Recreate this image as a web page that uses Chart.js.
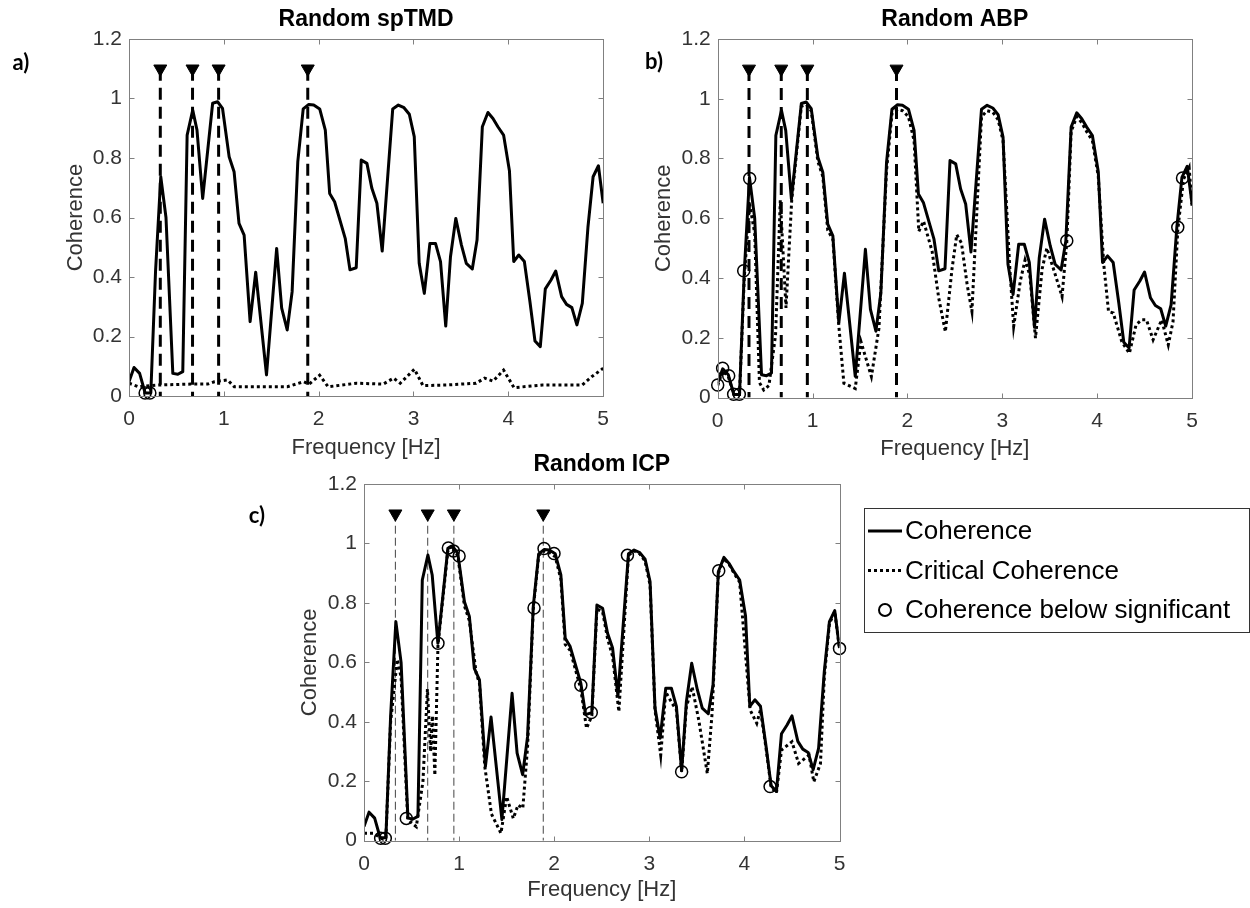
<!DOCTYPE html>
<html>
<head>
<meta charset="utf-8">
<script src="https://cdn.jsdelivr.net/npm/chart.js@4.4.1/dist/chart.umd.min.js"></script>
<style>
  body { margin: 0; background: #fff; width: 1250px; height: 908px; overflow: hidden; position: relative; }
  canvas { position: absolute; }
</style>
</head>
<body>
<canvas id="chartA" width="620" height="462" style="left:0px;top:0px"></canvas>
<canvas id="chartB" width="630" height="462" style="left:620px;top:0px"></canvas>
<canvas id="chartC" width="1010" height="458" style="left:240px;top:450px"></canvas>
<script>
// shared coherence curve (same in all three panels)
const cohFreq = [0, 0.053, 0.112, 0.17, 0.23, 0.28, 0.335, 0.39, 0.462, 0.515, 0.567, 0.613, 0.672, 0.717, 0.777, 0.882, 0.934, 0.986,
  1.056, 1.108, 1.16, 1.214, 1.277, 1.336, 1.45, 1.557, 1.61, 1.668, 1.72, 1.78, 1.837, 1.896, 1.948, 2.011, 2.07, 2.116, 2.168,
  2.28, 2.33, 2.396, 2.449, 2.509, 2.561, 2.614, 2.67, 2.781, 2.84, 2.9, 2.956, 3.008, 3.06, 3.114, 3.173, 3.232, 3.285, 3.34,
  3.39, 3.446, 3.505, 3.557, 3.62, 3.67, 3.726, 3.785, 3.838, 3.89, 3.95, 4.012, 4.057, 4.11, 4.169, 4.228, 4.281, 4.337, 4.39,
  4.45, 4.5, 4.562, 4.614, 4.67, 4.723, 4.78, 4.84, 4.894, 4.95, 5.0];
const coherence = [0.048, 0.096, 0.076, 0.01, 0.01, 0.42, 0.737, 0.6, 0.076, 0.073, 0.082, 0.877, 0.961, 0.894, 0.664, 0.984, 0.989, 0.967,
  0.804, 0.754, 0.58, 0.541, 0.25, 0.416, 0.071, 0.496, 0.295, 0.222, 0.35, 0.788, 0.965, 0.98, 0.978, 0.965, 0.894, 0.681, 0.653,
  0.53, 0.424, 0.431, 0.793, 0.782, 0.698, 0.648, 0.487, 0.965, 0.978, 0.969, 0.947, 0.872, 0.446, 0.345, 0.513, 0.513, 0.452, 0.235,
  0.468, 0.597, 0.508, 0.446, 0.427, 0.524, 0.905, 0.953, 0.933, 0.905, 0.877, 0.756, 0.452, 0.474, 0.452, 0.317, 0.185, 0.166, 0.36,
  0.39, 0.42, 0.334, 0.308, 0.297, 0.239, 0.311, 0.569, 0.737, 0.774, 0.648];

// critical coherence, one per panel
const critFreqA = [0, 0.1, 0.3, 0.65, 0.83, 0.9, 1.04, 1.11, 1.67, 1.84, 1.9, 2.01, 2.1, 2.4, 2.68, 2.79, 2.86, 3.01, 3.1, 3.35,
  3.66, 3.75, 3.84, 3.95, 4.06, 4.36, 4.78, 4.88, 5.0];
const critA = [0.043, 0.031, 0.037, 0.04, 0.04, 0.048, 0.054, 0.031, 0.031, 0.048, 0.04, 0.07, 0.031, 0.043, 0.04, 0.06, 0.043, 0.09, 0.035, 0.037,
  0.043, 0.06, 0.05, 0.087, 0.028, 0.037, 0.037, 0.065, 0.093];

const critFreqB = [0, 0.053, 0.112, 0.17, 0.23, 0.28, 0.335, 0.39, 0.44, 0.485, 0.54, 0.61, 0.66, 0.72, 0.78, 0.882, 0.934, 0.986,
  1.056, 1.108, 1.16, 1.214, 1.276, 1.33, 1.45, 1.51, 1.62, 1.7, 1.78, 1.837, 1.896, 1.948, 2.011, 2.07, 2.12, 2.17, 2.26, 2.33, 2.4,
  2.47, 2.52, 2.57, 2.63, 2.68, 2.781, 2.84, 2.9, 2.956, 3.008, 3.08, 3.12, 3.19, 3.24, 3.29, 3.35, 3.42, 3.47, 3.54, 3.63, 3.68,
  3.726, 3.785, 3.838, 3.89, 3.95, 4.012, 4.07, 4.12, 4.17, 4.26, 4.34, 4.41, 4.47, 4.52, 4.59, 4.68, 4.75, 4.8, 4.85, 4.91, 4.97, 5.0];
const critB = [0.04, 0.09, 0.07, 0.01, 0.01, 0.4, 0.65, 0.55, 0.05, 0.025, 0.04, 0.21, 0.66, 0.3, 0.66, 0.975, 0.98, 0.96,
  0.79, 0.74, 0.56, 0.53, 0.243, 0.048, 0.03, 0.187, 0.07, 0.232, 0.76, 0.95, 0.965, 0.96, 0.94, 0.86, 0.556, 0.59, 0.49, 0.333, 0.22,
  0.43, 0.545, 0.517, 0.377, 0.288, 0.94, 0.96, 0.955, 0.93, 0.86, 0.43, 0.238, 0.39, 0.46, 0.41, 0.199, 0.43, 0.5, 0.43, 0.338, 0.52,
  0.89, 0.94, 0.92, 0.89, 0.86, 0.74, 0.445, 0.288, 0.283, 0.187, 0.148, 0.243, 0.26, 0.26, 0.193, 0.26, 0.176, 0.254, 0.56, 0.73, 0.77, 0.64];

const critFreqC = [0, 0.095, 0.2, 0.23, 0.28, 0.35, 0.39, 0.46, 0.55, 0.62, 0.667, 0.7, 0.72, 0.745, 0.778, 0.882, 0.934, 0.986,
  1.056, 1.108, 1.18, 1.214, 1.27, 1.34, 1.44, 1.5, 1.57, 1.62, 1.67, 1.72, 1.78, 1.837, 1.896, 1.948, 2.011, 2.07, 2.116, 2.168,
  2.28, 2.34, 2.396, 2.449, 2.509, 2.561, 2.614, 2.68, 2.781, 2.84, 2.9, 2.956, 3.008, 3.06, 3.12, 3.173, 3.24, 3.285, 3.34, 3.39,
  3.45, 3.52, 3.61, 3.66, 3.726, 3.785, 3.838, 3.89, 3.95, 4.06, 4.13, 4.169, 4.228, 4.281, 4.337, 4.39, 4.5, 4.57, 4.68, 4.73,
  4.8, 4.84, 4.894, 4.95, 5.0];
const critC = [0.025, 0.025, 0.005, 0.01, 0.4, 0.61, 0.55, 0.07, 0.047, 0.2, 0.51, 0.3, 0.42, 0.22, 0.66, 0.975, 0.98, 0.96,
  0.79, 0.74, 0.563, 0.53, 0.25, 0.09, 0.025, 0.148, 0.075, 0.12, 0.109, 0.316, 0.78, 0.96, 0.975, 0.97, 0.955, 0.88, 0.66, 0.64,
  0.51, 0.378, 0.42, 0.78, 0.77, 0.68, 0.62, 0.434, 0.96, 0.975, 0.965, 0.94, 0.86, 0.44, 0.288, 0.5, 0.462, 0.44, 0.232, 0.45,
  0.518, 0.406, 0.226, 0.428, 0.9, 0.95, 0.93, 0.9, 0.87, 0.44, 0.395, 0.44, 0.31, 0.18, 0.16, 0.305, 0.333, 0.26, 0.288, 0.198,
  0.26, 0.55, 0.73, 0.77, 0.645];

// points where coherence is below the significance level
const belowFreqA = [0.17, 0.22];
const belowA = [0.01, 0.01];
const belowFreqB = [0, 0.052, 0.116, 0.168, 0.228, 0.274, 0.337, 3.68, 4.85, 4.9];
const belowB = [0.042, 0.098, 0.073, 0.011, 0.011, 0.424, 0.733, 0.525, 0.57, 0.735];
const belowFreqC = [0.175, 0.224, 0.445, 0.778, 0.887, 0.94, 1.0, 1.788, 1.893, 1.998, 2.28, 2.39, 2.77, 3.34, 3.73, 4.27, 5.0];
const belowC = [0.008, 0.008, 0.075, 0.664, 0.985, 0.975, 0.958, 0.783, 0.983, 0.966, 0.523, 0.431, 0.96, 0.232, 0.908, 0.182, 0.647];

// marked frequencies (triangles + dashed lines)
const markerFreq = [0.33, 0.67, 0.945, 1.885];
const markerLevel = 1.1;

const xTicks = [0, 1, 2, 3, 4, 5];
const yTicks = [0, 0.2, 0.4, 0.6, 0.8, 1, 1.2];
const legendLabels = ['Coherence', 'Critical Coherence', 'Coherence below significant'];

const FONT = '"Liberation Sans", Arial, sans-serif';
const TXT = '#333';
Chart.defaults.font.family = FONT;
Chart.defaults.animation = false;

const pts = (xs, ys) => xs.map((x, i) => ({ x, y: ys[i] }));

const panelDecor = {
  id: 'panelDecor',
  afterDatasetsDraw(chart, args, o) {
    const { ctx, chartArea: a, scales: { x, y } } = chart;
    ctx.save();
    // box with inward ticks
    ctx.strokeStyle = '#808080';
    ctx.lineWidth = 1;
    ctx.setLineDash([]);
    const L = Math.round(a.left) + 0.5, R = Math.round(a.right) + 0.5;
    const T = Math.round(a.top) + 0.5, B = Math.round(a.bottom) + 0.5;
    ctx.strokeRect(L, T, R - L, B - T);
    ctx.beginPath();
    x.ticks.forEach(t => {
      const px = Math.round(x.getPixelForValue(t.value)) + 0.5;
      ctx.moveTo(px, B); ctx.lineTo(px, B - 5);
      ctx.moveTo(px, T); ctx.lineTo(px, T + 5);
    });
    y.ticks.forEach(t => {
      const py = Math.round(y.getPixelForValue(t.value)) + 0.5;
      ctx.moveTo(L, py); ctx.lineTo(L + 5, py);
      ctx.moveTo(R, py); ctx.lineTo(R - 5, py);
    });
    ctx.stroke();

    // panel title and letter
    ctx.fillStyle = '#000';
    ctx.textAlign = 'center';
    ctx.textBaseline = 'middle';
    ctx.font = 'bold 23px ' + FONT;
    ctx.fillText(o.title, (a.left + a.right) / 2, a.top - 19);
    ctx.font = 'bold 22px Lato, ' + FONT;
    ctx.fillText(o.label, o.labelX, o.labelY);

    // figure legend
    if (o.legend) {
      const g = o.legend;
      ctx.strokeStyle = '#333';
      ctx.lineWidth = 1;
      ctx.strokeRect(g.x + 0.5, g.y + 0.5, g.w, g.h);
      ctx.font = '26px ' + FONT;
      ctx.textAlign = 'left';
      legendLabels.forEach((lab, i) => {
        const ds = chart.data.datasets.find(d => d.label === lab);
        const cy = g.y + g.firstRow + i * g.rowH;
        ctx.strokeStyle = '#000';
        if (ds.showLine === false) {
          ctx.setLineDash([]);
          ctx.lineWidth = 2;
          ctx.beginPath();
          ctx.arc(g.x + 21, cy, 6, 0, Math.PI * 2);
          ctx.stroke();
        } else {
          ctx.setLineDash(ds.borderDash || []);
          ctx.lineWidth = ds.borderWidth;
          ctx.beginPath();
          ctx.moveTo(g.x + 4, cy);
          ctx.lineTo(g.x + 38, cy);
          ctx.stroke();
        }
        ctx.setLineDash([]);
        ctx.fillStyle = '#000';
        ctx.fillText(lab, g.x + 41, cy + 1);
      });
    }
    ctx.restore();
  }
};

function makePanel(id, p) {
  const datasets = [];
  markerFreq.forEach(f => datasets.push({
    label: '', data: [{ x: f, y: markerLevel }, { x: f, y: 0 }],
    borderColor: p.vColor, borderWidth: p.vWidth, borderDash: p.vDash, pointRadius: 0, order: 5
  }));
  datasets.push({
    label: 'Critical Coherence', data: pts(p.critFreq, p.crit),
    borderColor: '#000', borderWidth: 3, borderDash: [3, 3], pointRadius: 0, order: 4
  });
  datasets.push({
    label: 'Coherence', data: pts(cohFreq, coherence),
    borderColor: '#000', borderWidth: 3, borderJoinStyle: 'round', pointRadius: 0, order: 3
  });
  datasets.push({
    label: 'Coherence below significant', data: pts(p.belowFreq, p.below), showLine: false,
    pointStyle: 'circle', pointRadius: 6, pointBorderWidth: 1.5, pointBorderColor: '#000',
    pointBackgroundColor: 'rgba(0,0,0,0)', clip: false, order: 2
  });
  datasets.push({
    label: '', data: markerFreq.map(f => ({ x: f, y: markerLevel })), showLine: false,
    pointStyle: 'triangle', rotation: 180, pointRadius: 7.5, pointBorderWidth: 1,
    pointBackgroundColor: '#000', pointBorderColor: '#000', clip: false, order: 1
  });

  return new Chart(document.getElementById(id), {
    type: 'line',
    data: { datasets },
    plugins: [panelDecor],
    options: {
      responsive: false,
      animation: false,
      layout: { padding: { left: 0, right: p.padRight, top: p.padTop, bottom: 0 } },
      plugins: {
        legend: { display: false },
        tooltip: { enabled: false },
        panelDecor: { title: p.title, label: p.label, labelX: p.labelX, labelY: p.labelY, legend: p.legend }
      },
      scales: {
        x: {
          type: 'linear', min: 0, max: 5,
          afterBuildTicks: s => { s.ticks = xTicks.map(v => ({ value: v })); },
          ticks: { color: TXT, font: { size: 21 }, padding: 11, maxRotation: 0, callback: v => String(v) },
          grid: { display: false, drawTicks: false },
          border: { display: false },
          title: { display: true, text: 'Frequency [Hz]', color: TXT, font: { size: 22 }, padding: { top: 0, bottom: p.xTitlePad } },
          afterFit: s => { s.height = p.xH; }
        },
        y: {
          type: 'linear', min: 0, max: 1.2,
          afterBuildTicks: s => { s.ticks = yTicks.map(v => ({ value: v })); },
          ticks: { color: TXT, font: { size: 21 }, padding: 7, callback: v => String(v) },
          grid: { display: false, drawTicks: false },
          border: { display: false },
          title: { display: true, text: 'Coherence', color: TXT, font: { size: 22 }, padding: { top: p.yTitlePad, bottom: 0 } },
          afterFit: s => { s.width = p.yW; }
        }
      }
    }
  });
}

makePanel('chartA', {
  title: 'Random spTMD', label: 'a)', labelX: 21, labelY: 63,
  critFreq: critFreqA, crit: critA, belowFreq: belowFreqA, below: belowA,
  vColor: '#000', vWidth: 3, vDash: [12, 7],
  padRight: 14, padTop: 39, yW: 129, xH: 66, yTitlePad: 63, xTitlePad: 1
});

makePanel('chartB', {
  title: 'Random ABP', label: 'b)', labelX: 34, labelY: 62,
  critFreq: critFreqB, crit: critB, belowFreq: belowFreqB, below: belowB,
  vColor: '#000', vWidth: 3, vDash: [12, 7],
  padRight: 58, padTop: 39, yW: 97.7, xH: 64.5, yTitlePad: 31, xTitlePad: 0
});

makePanel('chartC', {
  title: 'Random ICP', label: 'c)', labelX: 17, labelY: 66,
  critFreq: critFreqC, crit: critC, belowFreq: belowFreqC, below: belowC,
  vColor: '#444', vWidth: 1, vDash: [8, 4],
  padRight: 410.5, padTop: 34, yW: 124, xH: 67.3, yTitlePad: 57, xTitlePad: 5,
  legend: { x: 624, y: 58, w: 385, h: 124, firstRow: 23, rowH: 39.5 }
});
</script>
</body>
</html>
